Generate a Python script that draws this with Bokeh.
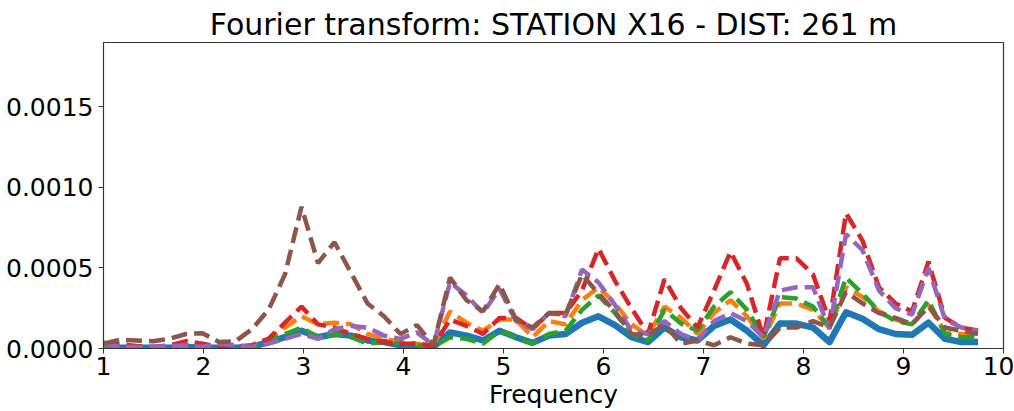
from bokeh.plotting import figure
from bokeh.models import FixedTicker, PrintfTickFormatter, Range1d
from bokeh.embed import file_html
from bokeh.resources import INLINE

SCALE = 1e-4

freq = [1.0, 1.165, 1.33, 1.495, 1.66, 1.825, 1.99, 2.155, 2.32, 2.485,
        2.65, 2.815, 2.98, 3.145, 3.31, 3.475, 3.64, 3.805, 3.97, 4.135,
        4.3, 4.465, 4.63, 4.795, 4.96, 5.125, 5.29, 5.455, 5.62, 5.785,
        5.95, 6.115, 6.28, 6.445, 6.61, 6.775, 6.94, 7.105, 7.27, 7.435,
        7.6, 7.765, 7.93, 8.095, 8.26, 8.425, 8.59, 8.755, 8.92, 9.085,
        9.25, 9.415, 9.58, 9.745]

s_blue = [0.05, 0.05, 0.05, 0.05, 0.05, 0.1, 0.05, 0.05, 0.05, 0.1,
          0.4, 0.7, 1.1, 0.7, 0.9, 0.8, 0.5, 0.4, 0.2, 0.2,
          0.1, 1.0, 0.8, 0.5, 1.1, 0.7, 0.35, 0.8, 0.9, 1.6,
          2.0, 1.45, 0.7, 0.4, 1.3, 0.7, 0.5, 1.4, 1.8, 1.1,
          0.2, 1.55, 1.55, 1.3, 0.4, 2.25, 1.85, 1.2, 0.9, 0.85,
          1.6, 0.6, 0.4, 0.4]
s_orange = [0.2, 0.1, 0.1, 0.05, 0.1, 0.2, 0.1, 0.1, 0.1, 0.2,
            0.6, 1.3, 2.0, 1.5, 1.6, 1.5, 0.9, 0.6, 0.4, 0.3,
            0.2, 2.3, 1.6, 1.1, 1.8, 1.8, 0.7, 1.7, 1.5, 3.0,
            3.8, 2.8, 1.5, 0.8, 2.6, 1.9, 0.9, 2.2, 3.0, 2.0,
            0.6, 2.8, 2.8, 2.4, 1.3, 3.8, 3.2, 2.3, 1.8, 1.5,
            2.7, 1.0, 0.9, 0.8]
s_green = [0.1, 0.05, 0.05, 0.05, 0.1, 0.2, 0.1, 0.05, 0.05, 0.1,
           0.5, 0.9, 1.3, 0.7, 0.9, 0.7, 0.3, 0.4, 0.3, 0.2,
           0.1, 0.7, 0.6, 0.3, 1.1, 0.7, 0.3, 0.9, 1.1, 2.4,
           3.3, 2.2, 0.9, 0.5, 2.4, 1.55, 1.1, 2.6, 3.5, 2.4,
           0.7, 3.2, 3.1, 2.6, 1.3, 4.4, 3.4, 2.3, 1.7, 1.5,
           3.0, 0.9, 0.7, 0.7]
s_red = [0.35, 0.25, 0.15, 0.1, 0.2, 0.45, 0.3, 0.1, 0.1, 0.2,
         0.6, 1.6, 2.6, 1.5, 1.3, 0.9, 0.6, 0.4, 0.3, 0.3,
         0.15, 1.8, 1.4, 0.9, 1.9, 1.9, 1.2, 2.2, 2.2, 3.6,
         6.2, 4.2, 2.5, 0.9, 4.3, 2.5, 1.3, 3.6, 6.0, 4.0,
         0.7, 5.6, 5.6, 4.6, 1.7, 8.4, 6.7, 3.8, 2.8, 2.3,
         5.4, 1.9, 1.3, 1.1]
s_purple = [0.3, 0.1, 0.1, 0.1, 0.15, 0.2, 0.1, 0.3, 0.2, 0.1,
            0.3, 0.6, 0.9, 0.6, 1.2, 1.4, 1.3, 0.8, 0.6, 1.0,
            0.2, 4.1, 3.3, 2.2, 3.7, 1.7, 1.2, 2.2, 2.0, 4.9,
            4.1, 2.7, 1.1, 0.9, 1.7, 0.9, 0.5, 1.7, 2.2, 1.7,
            0.7, 3.6, 3.8, 3.8, 1.2, 7.1, 6.1, 3.6, 2.5, 2.1,
            5.0, 1.8, 1.3, 1.1]
s_brown = [0.3, 0.55, 0.5, 0.45, 0.6, 0.9, 0.95, 0.4, 0.45, 1.2,
           2.4, 4.6, 8.8, 5.3, 6.6, 4.7, 2.8, 2.0, 0.9, 1.45,
           0.2, 4.4, 3.0, 2.3, 4.0, 1.8, 1.3, 2.2, 2.1, 4.6,
           3.4, 2.3, 0.9, 0.8, 1.5, 0.3, 0.5, 0.2, 0.7, 0.3,
           0.2, 1.3, 1.3, 1.7, 1.3, 3.5, 2.8, 2.2, 1.9, 1.5,
           2.6, 1.3, 1.1, 0.9]

x_ticks = [1, 2, 3, 4, 5, 6, 7, 8, 9, 10]
y_ticks = [0.0, 0.0005, 0.0010, 0.0015]

FONT = "DejaVu Sans"

p = figure(width=1014, height=411, output_backend="svg", toolbar_location=None,
           x_range=Range1d(1, 10), y_range=Range1d(0, 0.0019),
           min_border_left=103, min_border_right=11, min_border_top=42,
           min_border_bottom=63)

p.title.text = "Fourier transform: STATION X16 - DIST: 261 m"
p.title.align = "center"
p.title.text_font = FONT
p.title.text_font_size = "30px"
p.title.text_font_style = "normal"
p.title.text_color = "#000000"
p.title.standoff = 2

series = [
    (s_blue, "#1f77b4", None, 6.5),
    (s_orange, "#ff7f0e", "16 7", 4.5),
    (s_green, "#2ca02c", "16 7", 4.5),
    (s_red, "#d62728", "16 7", 4.5),
    (s_purple, "#9467bd", "16 7", 4.5),
    (s_brown, "#8c564b", "16 7", 4.5),
]
for vals, col, dash, lw in series:
    ys = [v * SCALE for v in vals]
    if dash is None:
        p.line(freq, ys, line_color=col, line_width=lw, line_join="round")
    else:
        p.line(freq, ys, line_color=col, line_width=lw, line_dash=dash)

p.xgrid.visible = False
p.ygrid.visible = False
p.outline_line_color = "#333333"
p.outline_line_width = 1.2

p.xaxis.ticker = FixedTicker(ticks=x_ticks)
p.yaxis.ticker = FixedTicker(ticks=y_ticks)
p.yaxis.formatter = PrintfTickFormatter(format="%.4f")
p.xaxis.axis_label = "Frequency"

for ax in (p.xaxis, p.yaxis):
    ax.axis_line_color = "#333333"
    ax.major_tick_line_color = "#333333"
    ax.major_tick_out = 5
    ax.major_tick_in = 0
    ax.minor_tick_line_color = None
    ax.major_label_text_font = FONT
    ax.major_label_text_font_size = "25px"
    ax.major_label_text_color = "#000000"
    ax.axis_label_text_font = FONT
    ax.axis_label_text_font_size = "25px"
    ax.axis_label_text_font_style = "normal"
    ax.axis_label_text_color = "#000000"
p.xaxis.major_label_standoff = 3
p.xaxis.axis_label_standoff = 2
p.yaxis.major_label_standoff = 5

open("out.html", "w").write(file_html(p, INLINE))
